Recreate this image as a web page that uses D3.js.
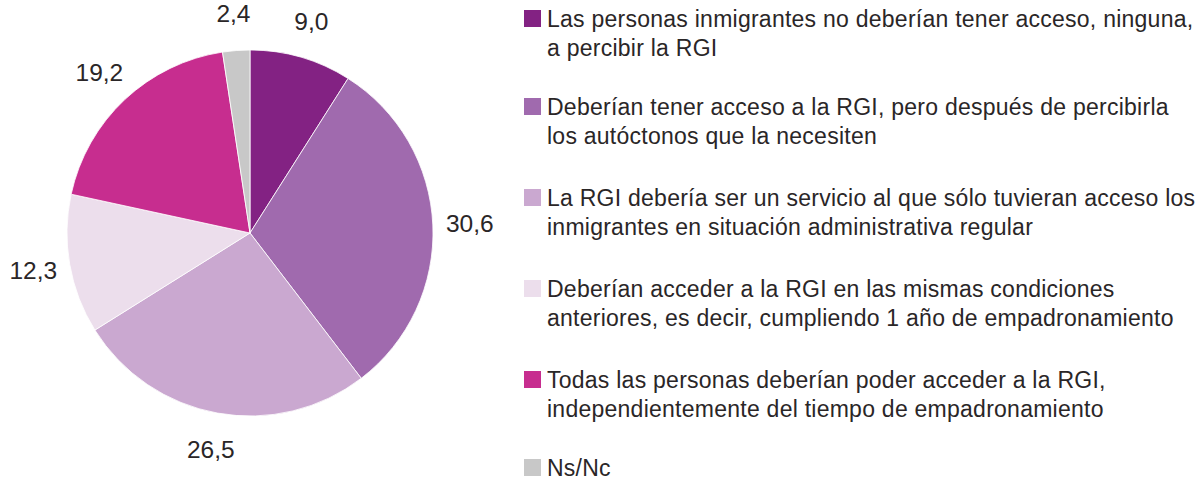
<!DOCTYPE html>
<html><head><meta charset="utf-8">
<script src="https://cdn.jsdelivr.net/npm/d3@7"></script>
<style>body{margin:0;background:#fff}svg{display:block}text{font-family:"Liberation Sans",Arial,sans-serif;fill:#2a2627}</style>
</head><body><svg id="c" width="1204" height="480"></svg>
<script>
const categories = [
  "Las personas inmigrantes no deberían tener acceso, ninguna,|a percibir la RGI",
  "Deberían tener acceso a la RGI, pero después de percibirla|los autóctonos que la necesiten",
  "La RGI debería ser un servicio al que sólo tuvieran acceso los|inmigrantes en situación administrativa regular",
  "Deberían acceder a la RGI en las mismas condiciones|anteriores, es decir, cumpliendo 1 año de empadronamiento",
  "Todas las personas deberían poder acceder a la RGI,|independientemente del tiempo de empadronamiento",
  "Ns/Nc"
];
const values = [9.0, 30.6, 26.5, 12.3, 19.2, 2.4];
const valueLabels = ["9,0", "30,6", "26,5", "12,3", "19,2", "2,4"];
const colors = ["#832283", "#a06aae", "#caa8d0", "#ecdeec", "#c72d8f", "#c8c8c8"];

const svg = d3.select("#c");
const cx = 250, cy = 233, R = 183, LR = 220;
const pie = d3.pie().sort(null).value(d => d)(values);
const arc = d3.arc().innerRadius(0).outerRadius(R);
const g = svg.append("g").attr("transform", `translate(${cx},${cy})`);
g.selectAll("path").data(pie).join("path")
  .attr("d", arc).attr("fill", (d, i) => colors[i])
  .attr("stroke", "#fff").attr("stroke-width", 0.8);
const la = d3.arc().innerRadius(LR).outerRadius(LR);
g.selectAll("text").data(pie).join("text")
  .attr("transform", d => `translate(${la.centroid(d)})`)
  .attr("text-anchor", "middle").attr("dy", "0.35em")
  .style("font-size", "24.5px")
  .text((d, i) => valueLabels[i]);

const lg = svg.append("g");
const itemY = [19, 107, 198, 289, 380, 468];
categories.forEach((c, i) => {
  const lines = c.split("|");
  lg.append("rect").attr("x", 524).attr("y", itemY[i] - 9).attr("width", 17).attr("height", 17).attr("fill", colors[i]);
  lines.forEach((l, j) => {
    lg.append("text").attr("x", 547).attr("y", itemY[i] + j * 29).attr("dy", "0.35em")
      .style("font-size", "23px").style("letter-spacing", "0.25px").text(l);
  });
});
</script></body></html>
